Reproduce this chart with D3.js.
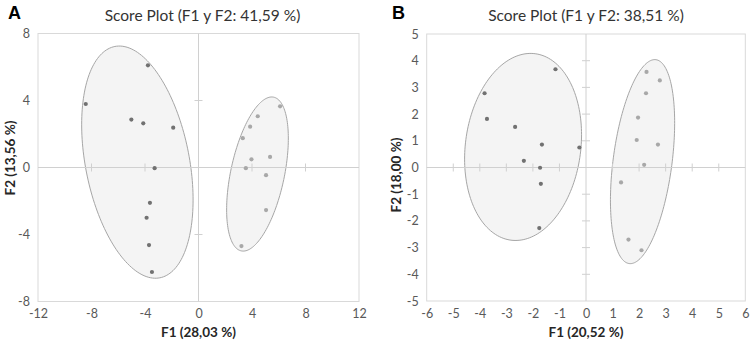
<!DOCTYPE html>
<html>
<head>
<meta charset="utf-8">
<script src="https://cdn.jsdelivr.net/npm/d3@7"></script>
<style>
  html, body { margin: 0; padding: 0; background: #fff; }
  svg { display: block; font-family: Lato, "Open Sans", sans-serif; }
</style>
</head>
<body>
<svg id="chart" width="750" height="342"></svg>
<script>
// --- data ---
const titleA = 'Score Plot (F1 y F2: 41,59 %)';
const titleB = 'Score Plot (F1 y F2: 38,51 %)';
const xLabelA = 'F1 (28,03 %)';
const yLabelA = 'F2 (13,56 %)';
const xLabelB = 'F1 (20,52 %)';
const yLabelB = 'F2 (18,00 %)';

const xTicksA = [-12, -8, -4, 0, 4, 8, 12];
const yTicksA = [-8, -4, 0, 4, 8];
const xTicksB = [-6, -5, -4, -3, -2, -1, 0, 1, 2, 3, 4, 5, 6];
const yTicksB = [-5, -4, -3, -2, -1, 0, 1, 2, 3, 4, 5];

// score points [F1, F2]
const groupA1 = [[-8.43, 3.79], [-3.78, 6.10], [-5.02, 2.86], [-4.13, 2.64], [-1.89, 2.38],
  [-3.28, -0.04], [-3.63, -2.11], [-3.88, -3.00], [-3.70, -4.63], [-3.48, -6.24]];
const groupA2 = [[6.10, 3.65], [4.43, 3.06], [3.86, 2.44], [3.31, 1.75], [3.96, 0.49],
  [5.35, 0.63], [3.54, -0.04], [5.05, -0.46], [5.05, -2.54], [3.21, -4.69]];
const groupB1 = [[-1.15, 3.68], [-3.82, 2.78], [-3.73, 1.82], [-2.67, 1.52], [-1.66, 0.86],
  [-0.25, 0.75], [-2.34, 0.25], [-1.73, -0.01], [-1.70, -0.61], [-1.76, -2.27]];
const groupB2 = [[2.28, 3.58], [2.78, 3.26], [2.26, 2.78], [1.96, 1.87], [1.91, 1.03],
  [2.71, 0.86], [2.19, 0.10], [1.32, -0.56], [1.60, -2.70], [2.09, -3.10]];

// confidence ellipses: centre + two conjugate semi-axis vectors, in data units
const ellipsesA = [
  { cx: -4.57, cy: 0.32, ax: 1.681, ay: -6.906, bx: 3.811, by: 0.592 },
  { cx: 4.41, cy: -0.39, ax: -1.210, ay: -4.589, bx: 1.964, by: -0.330 }
];
const ellipsesB = [
  { cx: -2.37, cy: 0.77, ax: -0.455, ay: -3.492, bx: 2.155, by: -0.276 },
  { cx: 2.13, cy: 0.22, ax: -0.502, ay: -3.818, bx: 1.100, by: -0.142 }
];

const svg = d3.select('#chart');

function drawPanel(cfg) {
  const g = svg.append('g');
  const x = d3.scaleLinear().domain(cfg.xDomain).range([cfg.left, cfg.right]);
  const y = d3.scaleLinear().domain(cfg.yDomain).range([cfg.bottom, cfg.top]);

  // plot area border
  g.append('rect')
    .attr('x', cfg.left).attr('y', cfg.top)
    .attr('width', cfg.right - cfg.left).attr('height', cfg.bottom - cfg.top)
    .attr('fill', 'none').attr('stroke', '#d9d9d9').attr('stroke-width', 1);

  // ellipses
  const t = d3.range(0, 2 * Math.PI + 0.001, Math.PI / 90);
  const line = d3.line().x(d => x(d[0])).y(d => y(d[1]));
  g.selectAll('path.ell').data(cfg.ellipses).enter().append('path')
    .attr('class', 'ell')
    .attr('d', e => line(t.map(a => [
      e.cx + e.ax * Math.cos(a) + e.bx * Math.sin(a),
      e.cy + e.ay * Math.cos(a) + e.by * Math.sin(a)
    ])) + 'Z')
    .attr('fill', '#f2f2f2').attr('fill-opacity', 0.85)
    .attr('stroke', '#a6a6a6').attr('stroke-width', 1);

  // zero lines
  g.append('line')
    .attr('x1', x(0)).attr('x2', x(0)).attr('y1', cfg.top).attr('y2', cfg.bottom)
    .attr('stroke', '#d0d0d0');
  g.append('line')
    .attr('x1', cfg.left).attr('x2', cfg.right).attr('y1', y(0)).attr('y2', y(0))
    .attr('stroke', '#d0d0d0');

  // crossing ticks on the zero axes
  const innerX = cfg.xTicks.filter(v => v !== 0 && v !== cfg.xDomain[0] && v !== cfg.xDomain[1]);
  const innerY = cfg.yTicks.filter(v => v !== 0 && v !== cfg.yDomain[0] && v !== cfg.yDomain[1]);
  g.selectAll('line.xt').data(innerX).enter().append('line')
    .attr('x1', d => x(d)).attr('x2', d => x(d))
    .attr('y1', y(0) - 4).attr('y2', y(0) + 4)
    .attr('stroke', '#d0d0d0');
  g.selectAll('line.yt').data(innerY).enter().append('line')
    .attr('x1', x(0) - 4).attr('x2', x(0) + 4)
    .attr('y1', d => y(d)).attr('y2', d => y(d))
    .attr('stroke', '#d0d0d0');

  // tick labels via axes (no lines)
  const xAxis = g.append('g').attr('transform', `translate(0,${cfg.bottom})`)
    .call(d3.axisBottom(x).tickValues(cfg.xTicks).tickSize(0).tickPadding(8));
  const yAxis = g.append('g').attr('transform', `translate(${cfg.left},0)`)
    .call(d3.axisLeft(y).tickValues(cfg.yTicks).tickSize(0).tickPadding(8));
  [xAxis, yAxis].forEach(a => {
    a.select('.domain').remove();
    a.selectAll('text')
      .attr('fill', '#595959')
      .style('font-family', 'Lato, sans-serif')
      .style('font-size', '12.5px');
  });
  xAxis.selectAll('text').text(d => d < 0 ? '-' + Math.abs(d) : d);
  yAxis.selectAll('text').text(d => d < 0 ? '-' + Math.abs(d) : d);

  // points
  g.selectAll('circle.p1').data(cfg.group1).enter().append('circle')
    .attr('cx', d => x(d[0])).attr('cy', d => y(d[1])).attr('r', 2.1)
    .attr('fill', '#717171');
  g.selectAll('circle.p2').data(cfg.group2).enter().append('circle')
    .attr('cx', d => x(d[0])).attr('cy', d => y(d[1])).attr('r', 2.1)
    .attr('fill', '#a8a8a8');

  // titles
  g.append('text')
    .attr('x', (cfg.left + cfg.right) / 2 + cfg.titleDx).attr('y', 20.5)
    .attr('text-anchor', 'middle')
    .attr('fill', '#333')
    .style('font-size', '15.5px')
    .text(cfg.title);
  g.append('text')
    .attr('x', (cfg.left + cfg.right) / 2).attr('y', 337)
    .attr('text-anchor', 'middle')
    .attr('fill', '#262626')
    .style('font-size', '13.5px').style('font-weight', 'bold')
    .text(cfg.xLabel);
  g.append('text')
    .attr('transform', `translate(${cfg.yLabelX},${cfg.yLabelY}) rotate(-90)`)
    .attr('text-anchor', 'middle')
    .attr('fill', '#262626')
    .style('font-size', '13.5px').style('font-weight', 'bold')
    .text(cfg.yLabel);
  g.append('text')
    .attr('x', cfg.letterX).attr('y', 19)
    .attr('fill', '#000')
    .style('font-family', '"Liberation Sans", Arial, sans-serif')
    .style('font-size', '18px').style('font-weight', 'bold')
    .text(cfg.letter);
}

drawPanel({
  letter: 'A', letterX: 8, title: titleA, titleDx: 4, xLabel: xLabelA, yLabel: yLabelA,
  yLabelX: 15, yLabelY: 158,
  left: 38, right: 359, top: 33.5, bottom: 301.5,
  xDomain: [-12, 12], yDomain: [-8, 8], xTicks: xTicksA, yTicks: yTicksA,
  group1: groupA1, group2: groupA2, ellipses: ellipsesA
});

drawPanel({
  letter: 'B', letterX: 392, title: titleB, titleDx: 0, xLabel: xLabelB, yLabel: yLabelB,
  yLabelX: 401, yLabelY: 175,
  left: 426.7, right: 745.3, top: 34, bottom: 301,
  xDomain: [-6, 6], yDomain: [-5, 5], xTicks: xTicksB, yTicks: yTicksB,
  group1: groupB1, group2: groupB2, ellipses: ellipsesB
});
</script>
</body>
</html>
